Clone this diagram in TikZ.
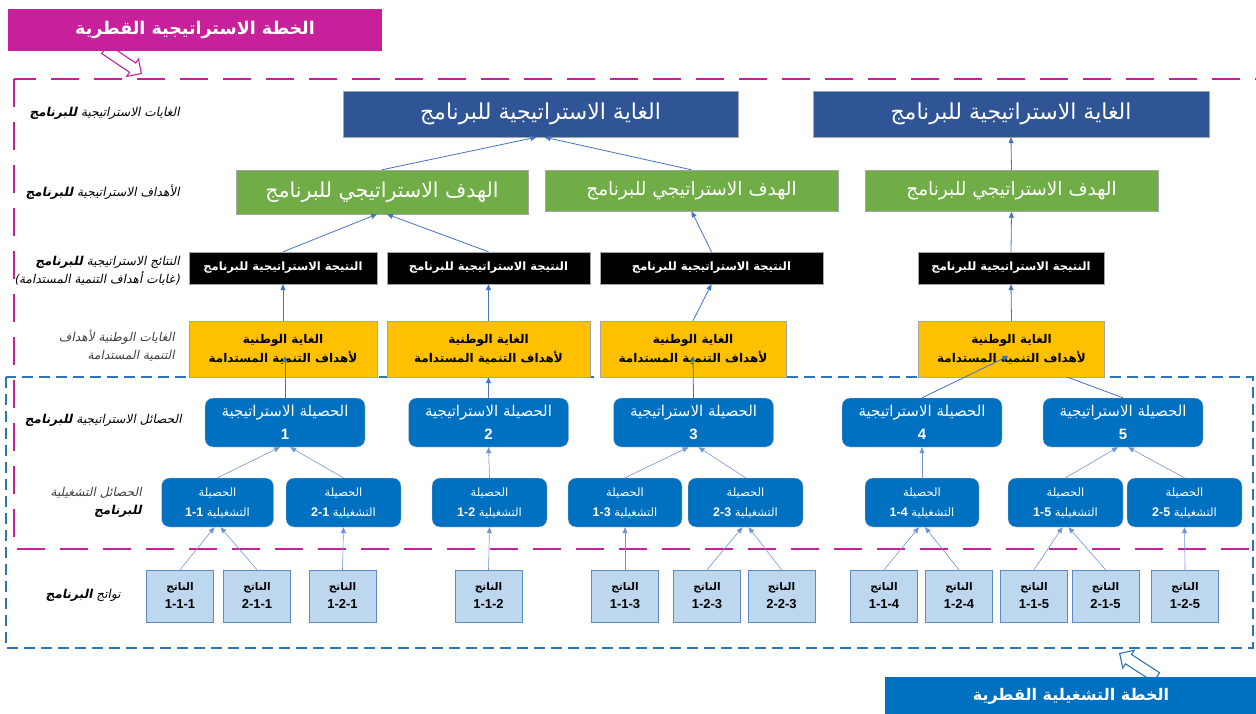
\documentclass[tikz,border=0pt]{standalone}
\usepackage{fontspec}
\setmainfont{Liberation Sans}
\newfontfamily\arabicfont[Script=Arabic]{DejaVu Sans}
\newfontfamily\arabicslant[Script=Arabic,FakeSlant=0.2]{DejaVu Sans}
\TeXXeTstate=1
\usetikzlibrary{shapes.arrows, arrows.meta, positioning}
\definecolor{planpink}{HTML}{C8209B}
\definecolor{opblue}{HTML}{0070C0}
\definecolor{goalblue}{HTML}{2F5597}
\definecolor{objgreen}{HTML}{70AD47}
\definecolor{natyellow}{HTML}{FFC000}
\definecolor{outlight}{HTML}{BDD7EE}
\definecolor{outborder}{HTML}{5B8AC6}
\definecolor{linkblue}{HTML}{4472C4}
\definecolor{boxgray}{HTML}{A6A6A6}
\definecolor{frameblue}{HTML}{2E75B6}
\definecolor{labelgray}{HTML}{404040}
\newcommand{\arline}[1]{\beginR #1\endR}
\newcommand{\numtxt}[1]{\beginL{\normalfont\bfseries #1}\endL{}}
\newcommand{\progb}[1]{{\bfseries\color{black}#1}}

\begin{document}
\begin{tikzpicture}[x=1pt, y=-1pt,
  goal/.style={rectangle, draw=boxgray, fill=goalblue, text=white, minimum width=395pt, minimum height=46pt, inner sep=0pt, font=\arabicfont\fontsize{22}{26}\selectfont},
  obj/.style={rectangle, draw=boxgray, fill=objgreen, text=white, minimum width=293pt, minimum height=41pt, inner sep=0pt, font=\arabicfont\fontsize{18.5}{22}\selectfont},
  res/.style={rectangle, draw=boxgray, fill=black, text=white, minimum width=188pt, minimum height=32pt, inner sep=0pt, font=\arabicfont\bfseries\fontsize{11.5}{14}\selectfont},
  nat/.style={rectangle, draw=boxgray, fill=natyellow, text=black, minimum width=188pt, minimum height=56pt, inner sep=0pt, align=center, font=\arabicfont\bfseries\fontsize{12}{19}\selectfont},
  sout/.style={rectangle, rounded corners=8pt, draw=boxgray!60, fill=opblue, text=white, minimum width=160pt, minimum height=49pt, inner sep=0pt, align=center, font=\arabicfont\fontsize{15}{23}\selectfont},
  oout/.style={rectangle, rounded corners=8pt, draw=boxgray!60, fill=opblue, text=white, minimum width=115pt, minimum height=49pt, inner sep=0pt, align=center, font=\arabicfont\fontsize{11.5}{20}\selectfont},
  outp/.style={rectangle, draw=outborder, fill=outlight, text=black, minimum width=67pt, minimum height=52pt, inner sep=0pt, align=center, font=\arabicfont\bfseries\fontsize{10.5}{18}\selectfont},
  lbl/.style={anchor=east, align=right, inner sep=0pt, text=labelgray, font=\arabicslant\fontsize{12.2}{18}\selectfont},
  ttl/.style={rectangle, text=white, inner sep=0pt, font=\arabicfont\bfseries\fontsize{17.5}{22}\selectfont},
  hollow/.style={single arrow, fill=white, line width=1.1pt, inner sep=5pt, minimum height=44pt, single arrow head extend=5pt},
  arrow/.style={-{Triangle[length=6pt, width=5pt]}, draw=linkblue, line width=0.8pt},
  thinarrow/.style={-{Triangle[length=6pt, width=5pt]}, draw=linkblue!75, line width=0.6pt},
  link/.style={draw=linkblue, line width=0.8pt}
]
  \useasboundingbox (0,0) rectangle (1256,714);

  % Plan frames
  \draw[frameblue, line width=2.6pt, dash pattern=on 11pt off 6pt] (6,377) rectangle (1253,648);
  \draw[planpink, line width=2.6pt, dash pattern=on 28pt off 15pt] (14,79) rectangle (1275,549);

  % Plan titles
  \node[hollow, draw=planpink, rotate=-34, anchor=tip] (pinkarrow) at (142,74) {};
  \node[ttl, fill=planpink, minimum width=374pt, minimum height=42pt] (stratplan) at (195,30) {\arline{الخطة الاستراتيجية القطرية}};
  \node[hollow, draw=frameblue, rotate=147, anchor=tip] (bluearrow) at (1119,653) {};
  \node[ttl, fill=opblue, minimum width=372pt, minimum height=38pt, font=\arabicfont\bfseries\fontsize{16}{20}\selectfont] (opplan) at (1071,696) {\arline{الخطة التشغيلية القطرية}};

  % Level labels
  \node[lbl] (lgoal) at (180,113) {\arline{الغايات الاستراتيجية \progb{للبرنامج}}};
  \node[lbl] (lobj) at (180,192) {\arline{الأهداف الاستراتيجية \progb{للبرنامج}}};
  \node[lbl] (lres) at (180,271) {\arline{النتائج الاستراتيجية \progb{للبرنامج}}\\\arline{(غايات أهداف التنمية المستدامة)}};
  \node[lbl] (lnat) at (175,346) {\arline{الغايات الوطنية لأهداف}\\\arline{التنمية المستدامة}};
  \node[lbl] (lsout) at (182,420) {\arline{الحصائل الاستراتيجية \progb{للبرنامج}}};
  \node[lbl] (loout) at (142,502) {\arline{الحصائل التشغيلية}\\\arline{\progb{للبرنامج}}};
  \node[lbl] (loutp) at (121,595) {\arline{نواتج \progb{البرنامج}}};

  % Strategic goals
  \node[goal] (G1) at (540.5,114) {\arline{الغاية الاستراتيجية للبرنامج}};
  \node[goal, minimum width=396pt] (G2) at (1011,114) {\arline{الغاية الاستراتيجية للبرنامج}};

  % Strategic objectives
  \node[obj, minimum width=292pt, minimum height=44pt, font=\arabicfont\fontsize{20.5}{24}\selectfont] (O1) at (382,192) {\arline{الهدف الاستراتيجي للبرنامج}};
  \node[obj] (O2) at (691.5,190.5) {\arline{الهدف الاستراتيجي للبرنامج}};
  \node[obj] (O3) at (1011.5,191) {\arline{الهدف الاستراتيجي للبرنامج}};

  % Strategic results
  \node[res] (R1) at (283,268) {\arline{النتيجة الاستراتيجية للبرنامج}};
  \node[res, minimum width=203pt] (R2) at (488.5,268) {\arline{النتيجة الاستراتيجية للبرنامج}};
  \node[res, minimum width=223pt] (R3) at (711.5,268) {\arline{النتيجة الاستراتيجية للبرنامج}};
  \node[res, minimum width=186pt] (R4) at (1011,268) {\arline{النتيجة الاستراتيجية للبرنامج}};

  % National targets
  \node[nat] (Y1) at (283,349) {\arline{الغاية الوطنية}\\\arline{لأهداف التنمية المستدامة}};
  \node[nat, minimum width=203pt] (Y2) at (488.5,349) {\arline{الغاية الوطنية}\\\arline{لأهداف التنمية المستدامة}};
  \node[nat, minimum width=186pt] (Y3) at (693,349) {\arline{الغاية الوطنية}\\\arline{لأهداف التنمية المستدامة}};
  \node[nat, minimum width=186pt] (Y4) at (1011.5,349) {\arline{الغاية الوطنية}\\\arline{لأهداف التنمية المستدامة}};

  % Strategic outcomes
  \node[sout] (S1) at (285,422.5) {\arline{الحصيلة الاستراتيجية}\\\numtxt{1}};
  \node[sout] (S2) at (488.5,422.5) {\arline{الحصيلة الاستراتيجية}\\\numtxt{2}};
  \node[sout] (S3) at (693.5,422.5) {\arline{الحصيلة الاستراتيجية}\\\numtxt{3}};
  \node[sout] (S4) at (922,422.5) {\arline{الحصيلة الاستراتيجية}\\\numtxt{4}};
  \node[sout] (S5) at (1123,422.5) {\arline{الحصيلة الاستراتيجية}\\\numtxt{5}};

  % Operational outcomes
  \node[oout, minimum width=112pt] (P11) at (217.5,502.5) {\arline{الحصيلة}\\\arline{التشغيلية \numtxt{\fontsize{12.5}{20}\selectfont 1-1}}};
  \node[oout] (P12) at (343.5,502.5) {\arline{الحصيلة}\\\arline{التشغيلية \numtxt{\fontsize{12.5}{20}\selectfont 2-1}}};
  \node[oout] (P21) at (489.5,502.5) {\arline{الحصيلة}\\\arline{التشغيلية \numtxt{\fontsize{12.5}{20}\selectfont 1-2}}};
  \node[oout, minimum width=114pt] (P31) at (625,502.5) {\arline{الحصيلة}\\\arline{التشغيلية \numtxt{\fontsize{12.5}{20}\selectfont 1-3}}};
  \node[oout] (P32) at (745.5,502.5) {\arline{الحصيلة}\\\arline{التشغيلية \numtxt{\fontsize{12.5}{20}\selectfont 2-3}}};
  \node[oout, minimum width=114pt] (P41) at (922,502.5) {\arline{الحصيلة}\\\arline{التشغيلية \numtxt{\fontsize{12.5}{20}\selectfont 1-4}}};
  \node[oout] (P51) at (1065.5,502.5) {\arline{الحصيلة}\\\arline{التشغيلية \numtxt{\fontsize{12.5}{20}\selectfont 1-5}}};
  \node[oout] (P52) at (1184.5,502.5) {\arline{الحصيلة}\\\arline{التشغيلية \numtxt{\fontsize{12.5}{20}\selectfont 2-5}}};

  % Outputs
  \node[outp] (N111) at (180,596) {\arline{الناتج}\\\numtxt{\fontsize{13}{18}\selectfont 1-1-1}};
  \node[outp] (N211) at (257,596) {\arline{الناتج}\\\numtxt{\fontsize{13}{18}\selectfont 2-1-1}};
  \node[outp] (N121) at (342.5,596) {\arline{الناتج}\\\numtxt{\fontsize{13}{18}\selectfont 1-2-1}};
  \node[outp] (N112) at (488.5,596) {\arline{الناتج}\\\numtxt{\fontsize{13}{18}\selectfont 1-1-2}};
  \node[outp] (N113) at (625,596) {\arline{الناتج}\\\numtxt{\fontsize{13}{18}\selectfont 1-1-3}};
  \node[outp] (N123) at (707,596) {\arline{الناتج}\\\numtxt{\fontsize{13}{18}\selectfont 1-2-3}};
  \node[outp] (N223) at (781.5,596) {\arline{الناتج}\\\numtxt{\fontsize{13}{18}\selectfont 2-2-3}};
  \node[outp] (N114) at (884,596) {\arline{الناتج}\\\numtxt{\fontsize{13}{18}\selectfont 1-1-4}};
  \node[outp] (N124) at (959,596) {\arline{الناتج}\\\numtxt{\fontsize{13}{18}\selectfont 1-2-4}};
  \node[outp] (N115) at (1034,596) {\arline{الناتج}\\\numtxt{\fontsize{13}{18}\selectfont 1-1-5}};
  \node[outp] (N215) at (1105.5,596) {\arline{الناتج}\\\numtxt{\fontsize{13}{18}\selectfont 2-1-5}};
  \node[outp] (N125) at (1185,596) {\arline{الناتج}\\\numtxt{\fontsize{13}{18}\selectfont 1-2-5}};

  % Upper links
  \draw[arrow] (O1.north) -- ([xshift=-4pt]G1.south);
  \draw[arrow] (O2.north) -- ([xshift=4pt]G1.south);
  \draw[arrow] (O3.north) -- (G2.south);
  \draw[arrow] (R1.north) -- ([xshift=-5pt]O1.south);
  \draw[arrow] (R2.north) -- ([xshift=5pt]O1.south);
  \draw[arrow] (R3.north) -- (O2.south);
  \draw[arrow] (R4.north) -- (O3.south);
  \draw[arrow] (Y1.north) -- (R1.south);
  \draw[arrow] (Y2.north) -- (R2.south);
  \draw[arrow] (Y3.north) -- (R3.south);
  \draw[arrow] (Y4.north) -- (R4.south);
  \draw[arrow] (S1.north) -- ([xshift=2pt, yshift=-7pt]Y1.center);
  \draw[arrow] (S2.north) -- (Y2.south);
  \draw[arrow] (S3.north) -- ([yshift=-7pt]Y3.center);
  \draw[arrow] (S4.north) -- ([xshift=-3pt, yshift=-7pt]Y4.center);
  \draw[link] (S5.north) -- ([xshift=56pt]Y4.south);

  % Lower links
  \draw[thinarrow] (P11.north) -- ([xshift=-5pt]S1.south);
  \draw[thinarrow] (P12.north) -- ([xshift=5pt]S1.south);
  \draw[thinarrow] (P21.north) -- (S2.south);
  \draw[thinarrow] (P31.north) -- ([xshift=-5pt]S3.south);
  \draw[thinarrow] (P32.north) -- ([xshift=5pt]S3.south);
  \draw[thinarrow] (P41.north) -- (S4.south);
  \draw[thinarrow] (P51.north) -- ([xshift=-5pt]S5.south);
  \draw[thinarrow] (P52.north) -- ([xshift=5pt]S5.south);
  \draw[thinarrow] (N111.north) -- ([xshift=-3pt]P11.south);
  \draw[thinarrow] (N211.north) -- ([xshift=3pt]P11.south);
  \draw[thinarrow] (N121.north) -- (P12.south);
  \draw[thinarrow] (N112.north) -- (P21.south);
  \draw[thinarrow] (N113.north) -- (P31.south);
  \draw[thinarrow] (N123.north) -- ([xshift=-3pt]P32.south);
  \draw[thinarrow] (N223.north) -- ([xshift=3pt]P32.south);
  \draw[thinarrow] (N114.north) -- ([xshift=-3pt]P41.south);
  \draw[thinarrow] (N124.north) -- ([xshift=3pt]P41.south);
  \draw[thinarrow] (N115.north) -- ([xshift=-3pt]P51.south);
  \draw[thinarrow] (N215.north) -- ([xshift=3pt]P51.south);
  \draw[thinarrow] (N125.north) -- (P52.south);
\end{tikzpicture}
\end{document}
